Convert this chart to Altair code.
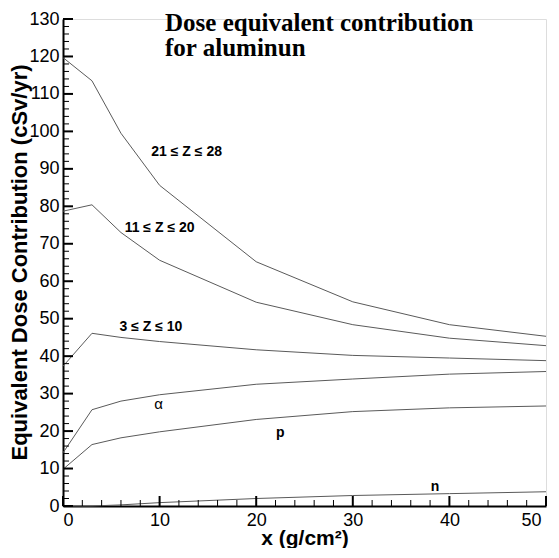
import altair as alt
import pandas as pd

# ---- data ----
x_vals = [0, 3, 6, 10, 20, 30, 40, 50]
z21_28 = [119.7, 113.5, 99.5, 85.6, 65.2, 54.5, 48.4, 45.3]
z11_20 = [78.7, 80.4, 73.0, 65.6, 54.4, 48.4, 44.8, 42.8]
z3_10 = [37.3, 46.1, 45.0, 43.9, 41.7, 40.2, 39.5, 38.8]
alpha = [14.2, 25.7, 28.0, 29.7, 32.5, 33.9, 35.2, 35.9]
proton = [9.8, 16.4, 18.2, 19.8, 23.1, 25.2, 26.2, 26.7]
neutron = [0.0, 0.0, 0.3, 0.9, 2.0, 2.8, 3.3, 3.8]

series_names = ["21-28", "11-20", "3-10", "alpha", "p", "n"]
series_vals = [z21_28, z11_20, z3_10, alpha, proton, neutron]

label_texts_bold = ["21 \u2264 Z \u2264 28", "11 \u2264 Z \u2264 20", "3 \u2264 Z \u2264 10", "p", "n"]
label_x_bold = [12.8, 10.0, 9.1, 22.5, 38.5]
label_y_bold = [94.5, 74.3, 47.7, 19.5, 5.2]
label_texts_plain = ["\u03b1"]
label_x_plain = [9.9]
label_y_plain = [27.3]

y_major = list(range(0, 131, 10))
y_minor = [v for v in range(0, 131, 2) if v % 10 != 0]
x_major = list(range(0, 51, 10))
x_minor = [v for v in range(0, 51, 2) if v % 10 != 0]

title_lines = "Dose equivalent contribution\nfor aluminun"

# ---- build tables ----
rows = []
for name, vals in zip(series_names, series_vals):
    for xv, yv in zip(x_vals, vals):
        rows.append({"series": name, "x": xv, "y": yv})
df = pd.DataFrame(rows)

W, H = 483, 487
X_MAX, Y_MAX = 50, 130
PX_PER_X = W / X_MAX
PX_PER_Y = H / Y_MAX
xs = alt.Scale(domain=[0, X_MAX], nice=False, zero=False)
ys = alt.Scale(domain=[0, Y_MAX], nice=False, zero=False)

x_axis = alt.Axis(
    values=x_major, ticks=False, grid=False, labelFontSize=18,
    labelFont="Liberation Sans", labelFontWeight="normal", labelColor="black",
    labelPadding=5, labelOverlap=False,
    labelOffset={"condition": {"test": "datum.value == 50", "value": -5}, "value": 0},
    domainColor="black", domainWidth=2, title="x (g/cm\u00b2)",
    titleFont="Liberation Sans", titleFontSize=21, titleFontWeight="bold",
    titleColor="black", titleBaseline="middle", titleY=32, titleX=W / 2)
y_axis = alt.Axis(
    values=y_major, ticks=False, grid=False, labelFontSize=18,
    labelFont="Liberation Sans", labelFontWeight="normal", labelColor="black",
    labelPadding=4, labelOverlap=False,
    domainColor="black", domainWidth=2,
    title="Equivalent Dose Contribution (cSv/yr)",
    titleFont="Liberation Sans", titleFontSize=22, titleFontWeight="bold",
    titleColor="black", titleAngle=-90, titleBaseline="middle",
    titleX=-44, titleY=243)

lines = alt.Chart(df).mark_line(color="#5a5a5a", strokeWidth=1).encode(
    x=alt.X("x:Q", scale=xs, axis=x_axis),
    y=alt.Y("y:Q", scale=ys, axis=y_axis),
    detail="series:N",
)


def yticks(vals, length_px, width):
    return alt.Chart(pd.DataFrame({"v": vals})).transform_calculate(
        a="0", b=str(length_px / PX_PER_X)
    ).mark_rule(color="black", strokeWidth=width).encode(
        y=alt.Y("v:Q", scale=ys, axis=y_axis),
        x=alt.X("a:Q", scale=xs, axis=x_axis),
        x2="b:Q",
    )


def xticks(vals, length_px, width):
    return alt.Chart(pd.DataFrame({"v": vals})).transform_calculate(
        a="0", b=str(length_px / PX_PER_Y)
    ).mark_rule(color="black", strokeWidth=width).encode(
        x=alt.X("v:Q", scale=xs, axis=x_axis),
        y=alt.Y("a:Q", scale=ys, axis=y_axis),
        y2="b:Q",
    )


ymaj = yticks(y_major, 10, 2)
ymin = yticks(y_minor, 6, 1)
xmaj = xticks(x_major, 10, 2)
xmin = xticks(x_minor, 6, 1)

lab_bold = alt.Chart(pd.DataFrame({"x": label_x_bold, "y": label_y_bold, "t": label_texts_bold})).mark_text(
    font="Liberation Sans", fontSize=14, fontWeight="bold", color="black", baseline="middle", align="center"
).encode(x=alt.X("x:Q", scale=xs, axis=x_axis), y=alt.Y("y:Q", scale=ys, axis=y_axis), text="t:N")
lab_plain = alt.Chart(pd.DataFrame({"x": label_x_plain, "y": label_y_plain, "t": label_texts_plain})).mark_text(
    font="Liberation Sans", fontSize=15, color="black", baseline="middle", align="center"
).encode(x=alt.X("x:Q", scale=xs, axis=x_axis), y=alt.Y("y:Q", scale=ys, axis=y_axis), text="t:N")

title = alt.Chart(pd.DataFrame({"t": [title_lines]})).mark_text(
    font="Liberation Serif", fontSize=25, fontWeight="bold", color="black",
    align="left", baseline="alphabetic", lineBreak="\n", lineHeight=25
).encode(x=alt.value(102), y=alt.value(12), text="t:N")

chart = alt.layer(lines, ymin, ymaj, xmin, xmaj, lab_bold, lab_plain, title).properties(
    width=W, height=H,
    autosize=alt.AutoSizeParams(type="none"),
    padding={"left": 55, "top": 11, "right": 5, "bottom": 42},
).configure_view(stroke=None).configure(background="white")

chart.save("out.html", embed_options={"renderer": "svg", "actions": False})
